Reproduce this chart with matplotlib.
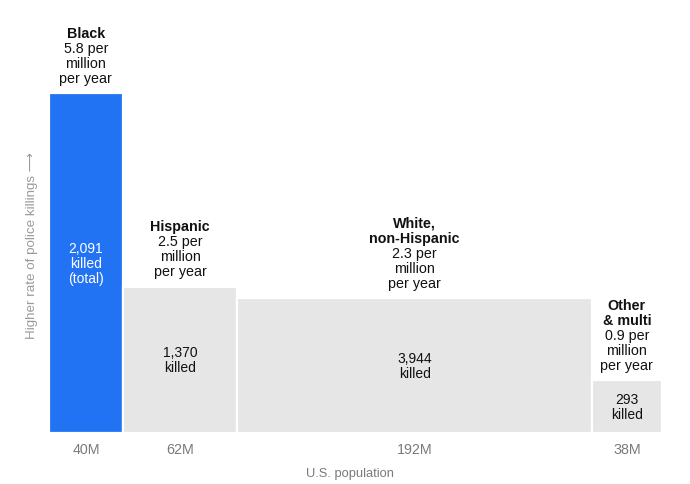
"""
Police killings by race: variable-width bars (width = population, height = rate)
"""

import matplotlib.pyplot as plt

# data
groups = ['Black', 'Hispanic', 'White,\nnon-Hispanic', 'Other\n& multi']
population = [40, 62, 192, 38]          # millions
rate = [5.8, 2.5, 2.3, 0.9]             # killed per million per year
killed_labels = ['2,091\nkilled\n(total)', '1,370\nkilled', '3,944\nkilled', '293\nkilled']
pop_labels = ['40M', '62M', '192M', '38M']

COLORS = {
    'highlight': '#2272F4',
    'bar': '#E6E6E6',
    'text': '#111111',
    'axis_text': '#7A7A7A',
    'ylabel': '#9A9A9A',
}
FONT = ['Liberation Sans', 'DejaVu Sans']
plt.rcParams['font.family'] = FONT

fig = plt.figure(figsize=(6.9, 4.85), dpi=100)
ax = fig.add_axes([49 / 690, 1 - 434.3 / 485, 613 / 690, 434.3 / 485])
ax.set_xlim(0, sum(population))
ax.set_ylim(0, 7.4)
ax.axis('off')

lefts = [sum(population[:i]) for i in range(len(population))]
centers = [l + w / 2 for l, w in zip(lefts, population)]
bar_colors = [COLORS['highlight']] + [COLORS['bar']] * (len(groups) - 1)

ax.bar(lefts, rate, width=population, align='edge',
       color=bar_colors, edgecolor='white', linewidth=1.6)

fs = 10.3
L = 10.8      # line pitch in points (15 px)
base = 8.2    # baseline of the lowest line above the bar top, points

for i, (cx, h) in enumerate(zip(centers, rate)):
    # label stack above the bar: bold name, then rate lines
    lines = [(s, 'bold') for s in groups[i].split('\n')]
    lines += [(s, 'normal') for s in [f'{rate[i]} per', 'million', 'per year']]
    for k, (s, wt) in enumerate(reversed(lines)):
        ax.annotate(s, (cx, h), xytext=(0, base + k * L),
                    textcoords='offset points', ha='center', va='baseline',
                    fontsize=fs, fontweight=wt, color=COLORS['text'])
    # count inside bar, centred
    inner = killed_labels[i].split('\n')
    n = len(inner)
    for k, s in enumerate(inner):
        ax.annotate(s, (cx, h / 2), xytext=(0, ((n - 1) / 2 - k) * L),
                    textcoords='offset points', ha='center', va='center',
                    fontsize=fs * 0.97,
                    color='white' if i == 0 else COLORS['text'])
    # population under the bar
    ax.annotate(pop_labels[i], (cx, 0), xytext=(0, -6),
                textcoords='offset points', ha='center', va='top',
                fontsize=fs, color=COLORS['axis_text'])

ax.annotate('U.S. population', (sum(population) / 2, 0), xytext=(-4, -24.5),
            textcoords='offset points', ha='center', va='top',
            fontsize=9.3, color=COLORS['axis_text'])

fig.text(32 / 690, 1 - 246 / 485, 'Higher rate of police killings \u27f6',
         rotation=90, ha='center', va='center', fontsize=9.6,
         color=COLORS['ylabel'], family=FONT)

plt.savefig('out.png', dpi=100, facecolor='white')
